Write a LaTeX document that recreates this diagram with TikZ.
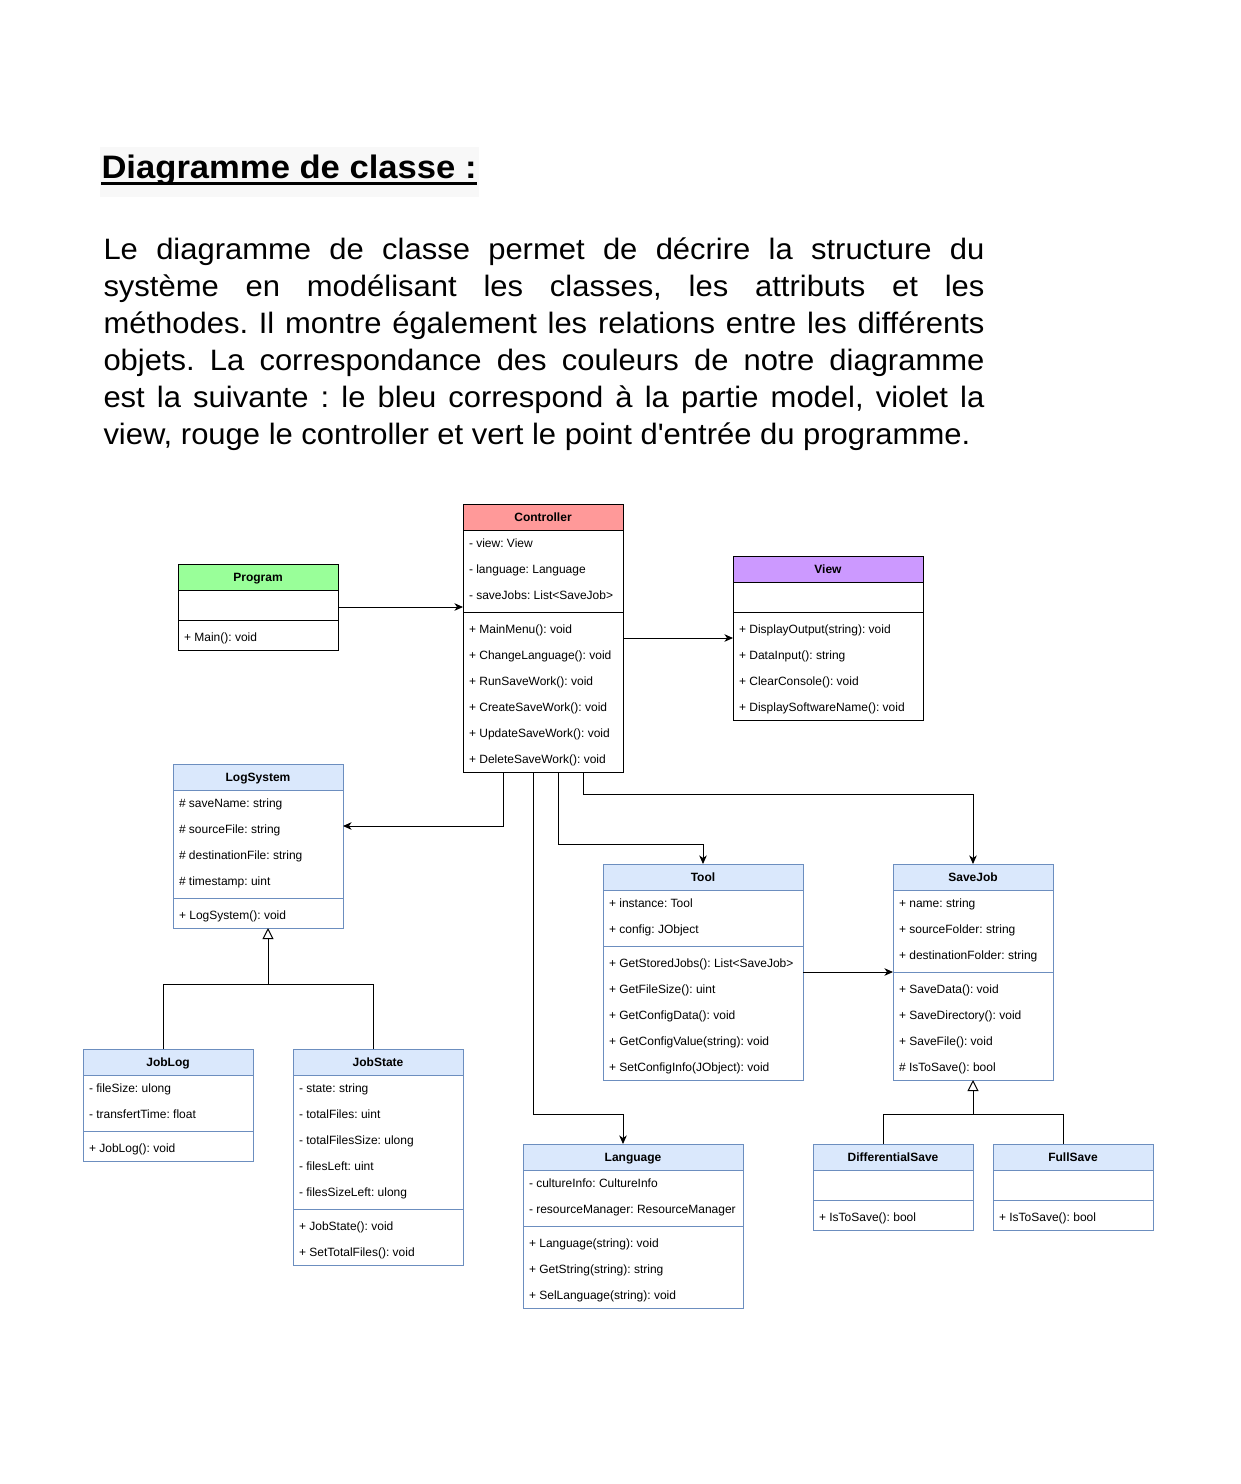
\documentclass[tikz,border=0pt]{standalone}
\usepackage{fontspec}
\setmainfont{Liberation Sans}
\newfontfamily\titlefont[FakeStretch=1.065]{Liberation Sans}
\newfontfamily\bodyfont[FakeStretch=1.05]{Liberation Sans}
\usetikzlibrary{arrows.meta,fit,calc}
\frenchspacing
\definecolor{ctrlred}{HTML}{FF9999}
\definecolor{viewpurple}{HTML}{CC99FF}
\definecolor{proggreen}{HTML}{99FF99}
\definecolor{modelblue}{HTML}{DAE8FC}
\definecolor{modelborder}{HTML}{6C8EBF}
\definecolor{titlebg}{HTML}{F8F8F8}
\tikzset{
  rowtext/.style={anchor=base west, inner sep=0, font=\fontsize{12}{14}\selectfont},
  titletext/.style={anchor=base, inner sep=0, yshift=-4.6pt, font=\fontsize{12}{14}\selectfont\bfseries},
  bodyline/.style={anchor=base west, inner sep=0, font=\bodyfont\fontsize{29.5}{37}\selectfont},
  assoc/.style={-{Stealth[length=8.5pt,width=7.5pt,inset=2.5pt]}},
  inherit/.style={-{Triangle[open,fill=white,length=11pt,width=11pt]}},
}
% name, x1, y1, x2, y2, header fill, border, title
\newcommand\umlclass[8]{%
  \node[draw=#7, fill=white, inner sep=0, outer sep=0, fit={(#2,#3)(#4,#5)}] (#1) {};
  \node[draw=#7, fill=#6, inner sep=0, outer sep=0, fit={(#2,#3)(#4,{#3+26})}] (#1-h) {};
  \node[titletext] (#1-t) at (#1-h.center) {#8};}
% name, box left x, row centre y, text
\newcommand\urow[4]{\node[rowtext] (#1) at ({#2+5.5},{#3+4.6}) {#4};}
% x1, x2, y, colour
\newcommand\udiv[4]{\draw[#4] (#1,#3) -- (#2,#3);}
\begin{document}
\begin{tikzpicture}[x=1pt,y=-1pt,line width=1pt]
\useasboundingbox (0,0) rectangle (1241,1484);
\fill[white] (0,0) rectangle (1241,1484);

% ---- heading and text
\fill[titlebg] (100,147) rectangle (479,197);
\node[anchor=base west, inner sep=0] (title) at (101,178)
  {\titlefont\fontsize{32.5}{38}\selectfont\bfseries Diagramme de classe :};
\draw[line width=2.5pt] ($(title.base west)+(0,5.5)$) -- ($(title.base east)+(0,5.5)$);

\node[bodyline] (l1) at (103,259.0) {\makebox[881pt][s]{Le diagramme de classe permet de décrire la structure du}};
\node[bodyline] (l2) at (103,296.1) {\makebox[881pt][s]{système en modélisant les classes, les attributs et les}};
\node[bodyline] (l3) at (103,333.2) {\makebox[881pt][s]{méthodes. Il montre également les relations entre les différents}};
\node[bodyline] (l4) at (103,370.3) {\makebox[881pt][s]{objets. La correspondance des couleurs de notre diagramme}};
\node[bodyline] (l5) at (103,407.4) {\makebox[881pt][s]{est la suivante : le bleu correspond à la partie model, violet la}};
\node[bodyline] (l6) at (103,444.5) {view, rouge le controller et vert le point d'entrée du programme.};

% ---- Controller
\umlclass{ctrl}{463}{504}{623}{772}{ctrlred}{black}{Controller}
\urow{ctrl-a1}{463}{543}{- view: View}
\urow{ctrl-a2}{463}{569}{- language: Language}
\urow{ctrl-a3}{463}{595}{- saveJobs: List<SaveJob>}
\udiv{463}{623}{612}{black}
\urow{ctrl-m1}{463}{629}{+ MainMenu(): void}
\urow{ctrl-m2}{463}{655}{+ ChangeLanguage(): void}
\urow{ctrl-m3}{463}{681}{+ RunSaveWork(): void}
\urow{ctrl-m4}{463}{707}{+ CreateSaveWork(): void}
\urow{ctrl-m5}{463}{733}{+ UpdateSaveWork(): void}
\urow{ctrl-m6}{463}{759}{+ DeleteSaveWork(): void}

% ---- Program
\umlclass{prog}{178}{564}{338}{650}{proggreen}{black}{Program}
\udiv{178}{338}{620}{black}
\urow{prog-m1}{178}{637}{+ Main(): void}

% ---- View
\umlclass{view}{733}{556}{923}{720}{viewpurple}{black}{View}
\udiv{733}{923}{612}{black}
\urow{view-m1}{733}{629}{+ DisplayOutput(string): void}
\urow{view-m2}{733}{655}{+ DataInput(): string}
\urow{view-m3}{733}{681}{+ ClearConsole(): void}
\urow{view-m4}{733}{707}{+ DisplaySoftwareName(): void}

% ---- LogSystem
\umlclass{logsys}{173}{764}{343}{928}{modelblue}{modelborder}{LogSystem}
\urow{logsys-a1}{173}{803}{\# saveName: string}
\urow{logsys-a2}{173}{829}{\# sourceFile: string}
\urow{logsys-a3}{173}{855}{\# destinationFile: string}
\urow{logsys-a4}{173}{881}{\# timestamp: uint}
\udiv{173}{343}{898}{modelborder}
\urow{logsys-m1}{173}{915}{+ LogSystem(): void}

% ---- Tool
\umlclass{tool}{603}{864}{803}{1080}{modelblue}{modelborder}{Tool}
\urow{tool-a1}{603}{903}{+ instance: Tool}
\urow{tool-a2}{603}{929}{+ config: JObject}
\udiv{603}{803}{946}{modelborder}
\urow{tool-m1}{603}{963}{+ GetStoredJobs(): List<SaveJob>}
\urow{tool-m2}{603}{989}{+ GetFileSize(): uint}
\urow{tool-m3}{603}{1015}{+ GetConfigData(): void}
\urow{tool-m4}{603}{1041}{+ GetConfigValue(string): void}
\urow{tool-m5}{603}{1067}{+ SetConfigInfo(JObject): void}

% ---- SaveJob
\umlclass{savejob}{893}{864}{1053}{1080}{modelblue}{modelborder}{SaveJob}
\urow{savejob-a1}{893}{903}{+ name: string}
\urow{savejob-a2}{893}{929}{+ sourceFolder: string}
\urow{savejob-a3}{893}{955}{+ destinationFolder: string}
\udiv{893}{1053}{972}{modelborder}
\urow{savejob-m1}{893}{989}{+ SaveData(): void}
\urow{savejob-m2}{893}{1015}{+ SaveDirectory(): void}
\urow{savejob-m3}{893}{1041}{+ SaveFile(): void}
\urow{savejob-m4}{893}{1067}{\# IsToSave(): bool}

% ---- JobLog
\umlclass{joblog}{83}{1049}{253}{1161}{modelblue}{modelborder}{JobLog}
\urow{joblog-a1}{83}{1088}{- fileSize: ulong}
\urow{joblog-a2}{83}{1114}{- transfertTime: float}
\udiv{83}{253}{1131}{modelborder}
\urow{joblog-m1}{83}{1148}{+ JobLog(): void}

% ---- JobState
\umlclass{jobstate}{293}{1049}{463}{1265}{modelblue}{modelborder}{JobState}
\urow{jobstate-a1}{293}{1088}{- state: string}
\urow{jobstate-a2}{293}{1114}{- totalFiles: uint}
\urow{jobstate-a3}{293}{1140}{- totalFilesSize: ulong}
\urow{jobstate-a4}{293}{1166}{- filesLeft: uint}
\urow{jobstate-a5}{293}{1192}{- filesSizeLeft: ulong}
\udiv{293}{463}{1209}{modelborder}
\urow{jobstate-m1}{293}{1226}{+ JobState(): void}
\urow{jobstate-m2}{293}{1252}{+ SetTotalFiles(): void}

% ---- Language
\umlclass{lang}{523}{1144}{743}{1308}{modelblue}{modelborder}{Language}
\urow{lang-a1}{523}{1183}{- cultureInfo: CultureInfo}
\urow{lang-a2}{523}{1209}{- resourceManager: ResourceManager}
\udiv{523}{743}{1226}{modelborder}
\urow{lang-m1}{523}{1243}{+ Language(string): void}
\urow{lang-m2}{523}{1269}{+ GetString(string): string}
\urow{lang-m3}{523}{1295}{+ SelLanguage(string): void}

% ---- DifferentialSave / FullSave
\umlclass{diffsave}{813}{1144}{973}{1230}{modelblue}{modelborder}{DifferentialSave}
\udiv{813}{973}{1200}{modelborder}
\urow{diffsave-m1}{813}{1217}{+ IsToSave(): bool}
\umlclass{fullsave}{993}{1144}{1153}{1230}{modelblue}{modelborder}{FullSave}
\udiv{993}{1153}{1200}{modelborder}
\urow{fullsave-m1}{993}{1217}{+ IsToSave(): bool}

% ---- associations
\draw[assoc] (prog.east) -- (ctrl.west |- prog.east);
\draw[assoc] (ctrl.east) -- (view.west);
\draw[assoc] ($(ctrl.south west)+(40,0)$) |- ($(logsys.north east)+(0,62)$);
\draw[assoc] ($(ctrl.south west)+(95,0)$) |- ($(tool.north)+(0,-20)$) -- (tool.north);
\draw[assoc] ($(ctrl.south west)+(120,0)$) |- ($(savejob.north)+(0,-70)$) -- (savejob.north);
\draw[assoc] ($(ctrl.south west)+(70,0)$) |- ($(lang.north west)+(100,-30)$) -- ($(lang.north west)+(100,0)$);
\draw[assoc] (tool.east) -- (savejob.west);

% ---- inheritance
\coordinate (lsb) at ($(logsys.south west)+(95,0)$);
\coordinate (lsj) at ($(lsb)+(0,56)$);
\draw[inherit] ($(joblog.north west)+(80,0)$) |- (lsj) -- (lsb);
\draw ($(jobstate.north west)+(80,0)$) |- (lsj);
\coordinate (sjj) at ($(savejob.south)+(0,34)$);
\draw[inherit] ($(diffsave.north west)+(70,0)$) |- (sjj) -- (savejob.south);
\draw ($(fullsave.north west)+(70,0)$) |- (sjj);
\end{tikzpicture}
\end{document}
